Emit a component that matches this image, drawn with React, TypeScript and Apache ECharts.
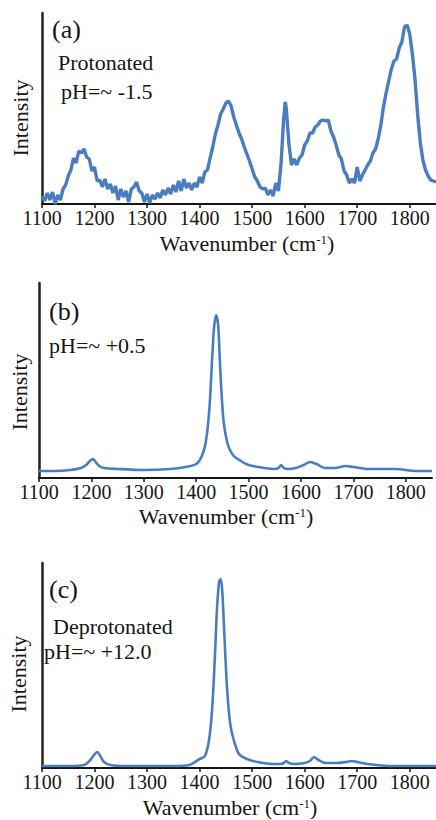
import React, { useEffect, useRef } from "react";
import * as echarts from "echarts";

// ---- data (intensity in arbitrary units) ----
const tickWavenumbers = [1100, 1200, 1300, 1400, 1500, 1600, 1700, 1800];

const waveA = [
  1100, 1105, 1110, 1115, 1120, 1125, 1130, 1135, 1140, 1145, 1150, 1155, 1160, 1165, 1170, 1175, 1180, 1185, 1190, 1195,
  1200, 1205, 1210, 1215, 1220, 1225, 1230, 1235, 1240, 1245, 1250, 1255, 1260, 1265, 1270, 1275, 1280, 1285, 1290, 1295,
  1300, 1305, 1310, 1315, 1320, 1325, 1330, 1335, 1340, 1345, 1350, 1355, 1360, 1365, 1370, 1375, 1380, 1385, 1390, 1395,
  1400, 1405, 1410, 1415, 1420, 1425, 1430, 1435, 1440, 1445, 1450, 1455, 1460, 1465, 1470, 1475, 1480, 1485, 1490, 1495,
  1500, 1505, 1510, 1515, 1520, 1525, 1530, 1535, 1540, 1545, 1550, 1555, 1560, 1563, 1565, 1570, 1575, 1580, 1585, 1590, 1595,
  1600, 1605, 1610, 1615, 1620, 1625, 1630, 1635, 1640, 1645, 1650, 1655, 1660, 1665, 1670, 1675, 1680, 1685, 1690, 1695,
  1700, 1705, 1710, 1715, 1720, 1725, 1730, 1735, 1740, 1745, 1750, 1755, 1760, 1765, 1770, 1775, 1780, 1785, 1790, 1795,
  1800, 1805, 1810, 1815, 1820, 1825, 1830, 1835, 1840, 1845, 1850,
];
const intA = [
  8, 3, 11, 4, 12, 0, 9, 4, 15, 19, 28, 34, 46, 41, 53, 51, 55, 47, 45, 33,
  37, 23, 24, 17, 25, 15, 20, 11, 18, 4, 15, 7, 13, 2, 15, 17, 22, 13, 11, 2,
  10, 1, 9, 5, 11, 6, 14, 9, 16, 10, 19, 12, 23, 13, 25, 16, 21, 14, 21, 17,
  27, 21, 32, 34, 46, 57, 70, 79, 90, 95, 101, 103, 98, 87, 79, 71, 65, 57, 50, 43,
  35, 27, 23, 17, 15, 16, 9, 14, 8, 21, 13, 40, 85, 102, 96, 60, 39, 45, 39, 46, 49,
  59, 63, 71, 71, 77, 79, 83, 84, 83, 84, 73, 67, 59, 49, 45, 33, 29, 21, 25, 21,
  37, 23, 29, 34, 39, 43, 51, 55, 65, 79, 97, 111, 123, 135, 143, 145, 156, 162, 177, 179,
  170, 150, 125, 90, 62, 44, 34, 28, 24, 23, 22,
];

const waveB = [
  1100, 1130, 1160, 1180, 1190, 1197, 1203, 1208, 1215, 1225, 1250, 1300, 1350, 1380, 1400, 1410, 1418, 1425, 1430, 1434,
  1438, 1442, 1446, 1452, 1460, 1470, 1485, 1500, 1530, 1550, 1557, 1562, 1567, 1575, 1590, 1605, 1617, 1630, 1645, 1665,
  1685, 1700, 1730, 1780, 1820, 1850,
];
const intB = [
  7, 7, 8, 10, 13, 17, 19, 16, 12, 10, 9, 8, 9, 11, 14, 21, 35, 68, 115, 150,
  163, 152, 108, 58, 34, 23, 17, 13, 10, 9, 10, 13, 10, 9, 10, 13, 16, 14, 10, 10,
  12, 11, 9, 9, 7, 7,
];

const waveC = [
  1100, 1150, 1180, 1192, 1199, 1205, 1211, 1218, 1230, 1260, 1300, 1350, 1380, 1400, 1410, 1418, 1424, 1429, 1433, 1437,
  1440, 1443, 1447, 1452, 1458, 1465, 1475, 1490, 1510, 1540, 1555, 1560, 1565, 1570, 1580, 1600, 1610, 1618, 1626, 1640,
  1660, 1680, 1690, 1700, 1720, 1760, 1800, 1850,
];
const intC = [
  2, 2, 3, 8, 13, 16, 12, 6, 3, 2, 2, 2, 3, 9, 12, 28, 60, 110, 158, 186,
  189, 178, 135, 82, 45, 28, 14, 9, 6, 4, 4, 5, 7, 5, 4, 5, 7, 11, 8, 5,
  5, 6, 7, 6, 4, 2, 2, 2,
];

const panelLetters = ["(a)", "(b)", "(c)"];
const panelNotes = [["Protonated", "pH=~ -1.5"], ["pH=~ +0.5"], ["Deprotonated", "pH=~ +12.0"]];

const SERIF = "Liberation Serif";
const BLUE = "#4a7dc0";
const INK = "#151515";

export default function App() {
  const ref = useRef<HTMLDivElement>(null);
  useEffect(() => {
    if (!ref.current) return;
    const chart = echarts.init(ref.current, undefined, { renderer: "svg" });

    const grids = [
      { left: 42, top: 13, width: 394, height: 191, ymax: 191 },
      { left: 39, top: 283, width: 393, height: 195, ymax: 195 },
      { left: 42, top: 563, width: 394, height: 205, ymax: 205 },
    ];
    const seriesData = [
      waveA.map((w, i) => [w, intA[i]]),
      waveB.map((w, i) => [w, intB[i]]),
      waveC.map((w, i) => [w, intC[i]]),
    ];

    const txt = (text: string, x: number, y: number, size: number, extra: any = {}) => ({
      type: "text",
      x,
      y,
      silent: true,
      rotation: extra.rotation || 0,
      style: {
        text,
        x: 0,
        y: 0,
        fill: INK,
        fontFamily: SERIF,
        fontSize: size,
        textAlign: extra.align || "left",
        align: extra.align || "left",
        textVerticalAlign: "middle",
        verticalAlign: "middle",
        ...(extra.style || {}),
      },
    });

    const titleRich = {
      a: { fontFamily: SERIF, fontSize: 22, color: INK, lineHeight: 20 },
      s: { fontFamily: SERIF, fontSize: 13, color: INK, verticalAlign: "top" },
    };

    const graphics: any[] = [];
    graphics.push(txt(panelLetters[0], 52, 29, 26));
    graphics.push(txt(panelNotes[0][0], 58, 62, 22));
    graphics.push(txt(panelNotes[0][1], 61, 91, 22));
    graphics.push(txt(panelLetters[1], 49, 311, 26));
    graphics.push(txt(panelNotes[1][0], 49, 345, 22));
    graphics.push(txt(panelLetters[2], 49, 589, 26));
    graphics.push(txt(panelNotes[2][0], 53, 626, 22));
    graphics.push(txt(panelNotes[2][1], 44, 651, 22));
    [118, 392, 674].forEach((cy, i) => {
      graphics.push(txt("Intensity", [20, 19, 18][i], cy, 22, { rotation: Math.PI / 2, align: "center" }));
    });
    [[247, 243], [226, 516], [230, 807]].forEach(([cx, cy]) => {
      graphics.push(
        txt("", cx, cy, 22, {
          align: "center",
          style: { text: "{a|Wavenumber (cm}{s|-1}{a|)}", rich: titleRich },
        })
      );
    });

    chart.setOption({
      animation: false,
      backgroundColor: "#ffffff",
      grid: grids.map((g) => ({ left: g.left, top: g.top, width: g.width, height: g.height, containLabel: false })),
      xAxis: grids.map((_, i) => ({
        type: "value",
        gridIndex: i,
        min: 1100,
        max: 1850,
        interval: 100,
        axisLine: { show: true, onZero: false, lineStyle: { color: INK, width: 2 } },
        axisTick: { show: true, length: 4, inside: false, lineStyle: { color: INK, width: 1.5 } },
        axisLabel: {
          show: true,
          fontFamily: SERIF,
          fontSize: 20,
          color: INK,
          margin: 4,
          showMaxLabel: false,
          formatter: (v: number) => (tickWavenumbers.includes(v) ? String(v) : ""),
        },
        splitLine: { show: false },
      })),
      yAxis: grids.map((g, i) => ({
        type: "value",
        gridIndex: i,
        min: 0,
        max: g.ymax,
        axisLine: { show: true, lineStyle: { color: "#222", width: 2.5 } },
        axisTick: { show: false },
        axisLabel: { show: false },
        splitLine: { show: false },
      })),
      series: seriesData.map((d, i) => ({
        type: "line",
        xAxisIndex: i,
        yAxisIndex: i,
        data: d,
        symbol: "none",
        smooth: i === 0 ? false : 0.3,
        lineStyle: { color: BLUE, width: i === 0 ? 3.4 : 2.6 },
        clip: true,
      })),
      graphic: graphics,
    });

    return () => chart.dispose();
  }, []);

  return (
    <div
      ref={ref}
      style={{ position: "absolute", left: 0, top: 0, width: 436, height: 820, background: "#fff" }}
    />
  );
}
